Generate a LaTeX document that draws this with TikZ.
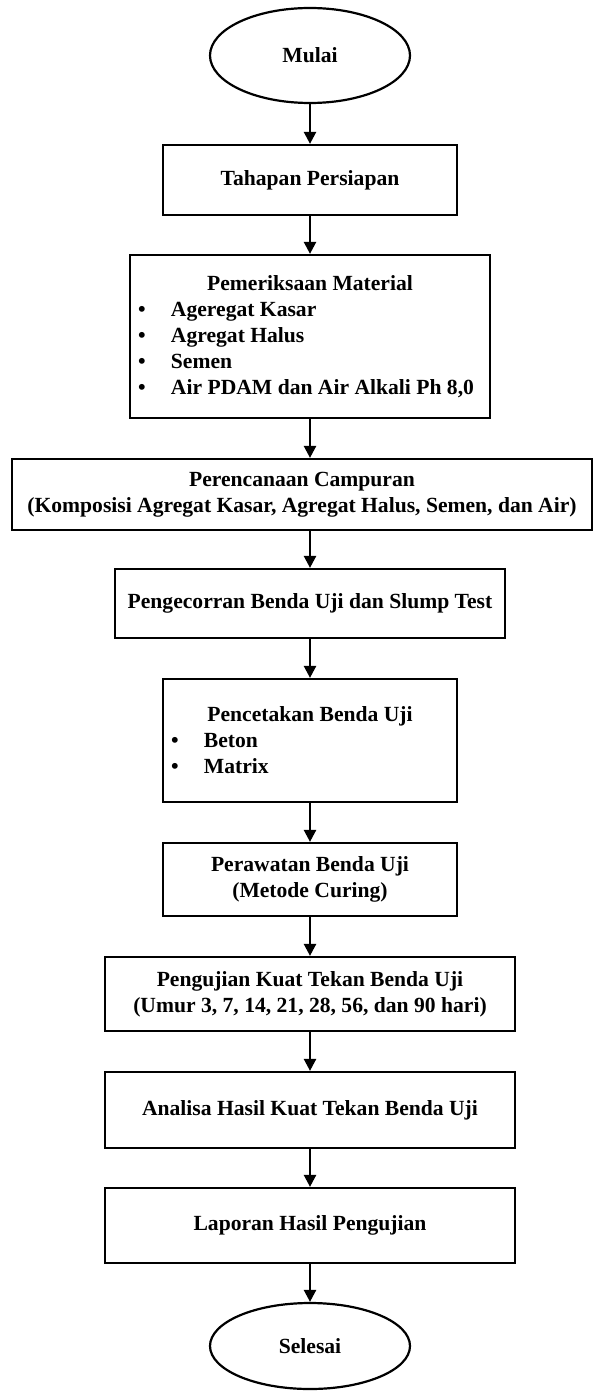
\documentclass[tikz,border=0pt]{standalone}
\usepackage{fontspec}
\setmainfont{Liberation Serif}
\usetikzlibrary{arrows.meta,shapes.geometric,positioning}
\newcommand{\butir}[1]{\makebox[16.5pt][l]{\textbullet}#1}

\begin{document}
\begin{tikzpicture}[x=0.5pt, y=-0.5pt, line width=1.1pt,
      font=\fontsize{10.8}{13}\selectfont\bfseries,
      box/.style={draw, rectangle, minimum height=35pt, align=center, inner sep=4pt},
      terminal/.style={draw, ellipse, minimum width=100pt, inner sep=0pt},
      arrow/.style={-{Triangle[width=6pt,length=6pt]}, line width=1.2pt}]
    \useasboundingbox (0,0) rectangle (595,1391);
    \node[terminal, minimum height=47.5pt] (mulai) at (310,55.5) {Mulai};
    \node[box, minimum width=147pt] (siap) at (310,180) {Tahapan Persiapan};
    \node[box, minimum height=81.5pt, align=left] (periksa) at (310,336.5)
      {\makebox[172pt][c]{Pemeriksaan Material}\\
       \butir{Ageregat Kasar}\\
       \butir{Agregat Halus}\\
       \butir{Semen}\\
       \butir{Air PDAM dan Air Alkali Ph 8,0}};
    \node[box, minimum width=290pt, minimum height=35.5pt] (rencana) at (302,494.5)
      {Perencanaan Campuran\\(Komposisi Agregat Kasar, Agregat Halus, Semen, dan Air)};
    \node[box, minimum width=195pt, minimum height=34.5pt] (cor) at (310,603.5)
      {Pengecorran Benda Uji dan Slump Test};
    \node[box, minimum height=61.5pt, align=left] (cetak) at (310,740.5)
      {\makebox[139pt][c]{Pencetakan Benda Uji}\\
       \butir{Beton}\\
       \butir{Matrix}};
    \node[box, minimum width=147pt, minimum height=36.5pt] (rawat) at (310,879.5)
      {Perawatan Benda Uji\\(Metode Curing)};
    \node[box, minimum width=205pt, minimum height=37pt] (uji) at (310,994)
      {Pengujian Kuat Tekan Benda Uji\\(Umur 3, 7, 14, 21, 28, 56, dan 90 hari)};
    \node[box, minimum width=205pt, minimum height=38pt] (analisa) at (310,1110)
      {Analisa Hasil Kuat Tekan Benda Uji};
    \node[box, minimum width=205pt, minimum height=37.5pt] (lapor) at (310,1225.5)
      {Laporan Hasil Pengujian};
    \node[terminal, minimum height=43pt] (selesai) at (310,1346) {Selesai};
    \draw[arrow] (mulai.south)--(siap.north);
    \draw[arrow] (siap.south)--(periksa.north);
    \draw[arrow] (periksa.south)--(periksa.south |- rencana.north);
    \draw[arrow] (cor.north |- rencana.south)--(cor.north);
    \draw[arrow] (cor.south)--(cetak.north);
    \draw[arrow] (cetak.south)--(rawat.north);
    \draw[arrow] (rawat.south)--(uji.north);
    \draw[arrow] (uji.south)--(analisa.north);
    \draw[arrow] (analisa.south)--(lapor.north);
    \draw[arrow] (lapor.south)--(selesai.north);
  \end{tikzpicture}
\end{document}
